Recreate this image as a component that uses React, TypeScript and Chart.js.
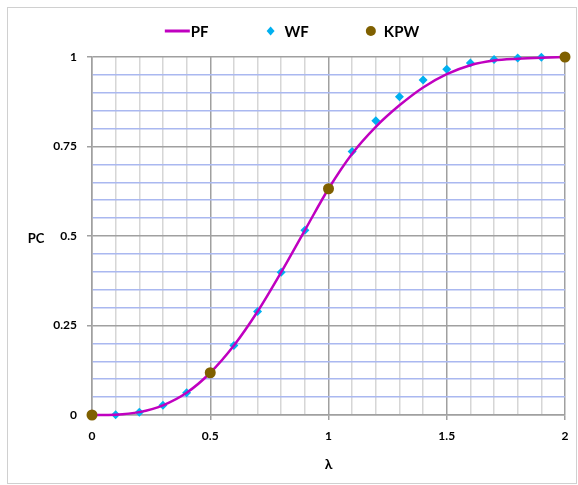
import React, { useEffect, useRef } from "react";
import { Chart, registerables } from "chart.js";

Chart.register(...registerables);

const lambdaValues = [0, 0.1, 0.2, 0.3, 0.4, 0.5, 0.6, 0.7, 0.8, 0.9, 1.0, 1.1, 1.2, 1.3, 1.4, 1.5, 1.6, 1.7, 1.8, 1.9, 2.0];
const pfValues = [0, 0.001, 0.008, 0.027, 0.062, 0.118, 0.194, 0.289, 0.399, 0.516, 0.632, 0.730, 0.805, 0.865, 0.915, 0.952, 0.977, 0.990, 0.995, 0.998, 1.0];
const wfLambda = [0.1, 0.2, 0.3, 0.4, 0.6, 0.7, 0.8, 0.9, 1.1, 1.2, 1.3, 1.4, 1.5, 1.6, 1.7, 1.8, 1.9];
const wfValues = [0.001, 0.008, 0.027, 0.062, 0.194, 0.289, 0.399, 0.516, 0.736, 0.822, 0.889, 0.936, 0.966, 0.983, 0.993, 0.997, 0.999];
const kpwLambda = [0, 0.5, 1.0, 2.0];
const kpwValues = [0, 0.118, 0.632, 1.0];
const seriesNames = ["PF", "WF", "KPW"];
const xTitle = "λ";
const yTitle = "PC";

const PF_COLOR = "#c000c0";
const WF_COLOR = "#00b0f0";
const KPW_COLOR = "#7f6000";
const FONT = "Lato, 'Open Sans', sans-serif";

const isMultiple = (v: number, step: number) => Math.abs(v / step - Math.round(v / step)) < 1e-6;

export default function App() {
  const ref = useRef<HTMLCanvasElement | null>(null);

  useEffect(() => {
    if (!ref.current) return;

    const overlay = {
      id: "overlay",
      afterDraw(chart: any) {
        const { ctx, chartArea } = chart;
        ctx.save();
        // y title horizontal
        ctx.fillStyle = "#000";
        ctx.font = `bold 13px ${FONT}`;
        ctx.textAlign = "center";
        ctx.textBaseline = "middle";
        ctx.fillText(yTitle, 36, (chartArea.top + chartArea.bottom) / 2 + 3);

        // legend
        ctx.font = `bold 15px ${FONT}`;
        ctx.textAlign = "left";
        const ly = 31;
        const symW = [25, 10, 10];
        const gapSym = [1, 9, 8];
        const gapItem = 57;
        const textW = seriesNames.map((n) => ctx.measureText(n).width);
        let total = 0;
        for (let i = 0; i < 3; i++) total += symW[i] + gapSym[i] + textW[i];
        total += gapItem * 2;
        let x = chart.width / 2 - total / 2 + 3;
        for (let i = 0; i < 3; i++) {
          if (i === 0) {
            ctx.strokeStyle = PF_COLOR;
            ctx.lineWidth = 3;
            ctx.beginPath();
            ctx.moveTo(x, ly);
            ctx.lineTo(x + symW[0], ly);
            ctx.stroke();
          } else if (i === 1) {
            const cx = x + 5;
            ctx.fillStyle = WF_COLOR;
            ctx.beginPath();
            ctx.moveTo(cx, ly - 4.5);
            ctx.lineTo(cx + 4, ly);
            ctx.lineTo(cx, ly + 4.5);
            ctx.lineTo(cx - 4, ly);
            ctx.closePath();
            ctx.fill();
          } else {
            ctx.fillStyle = KPW_COLOR;
            ctx.beginPath();
            ctx.arc(x + 5, ly, 5, 0, Math.PI * 2);
            ctx.fill();
          }
          x += symW[i] + gapSym[i];
          ctx.fillStyle = "#000";
          ctx.fillText(seriesNames[i], x, ly + 1);
          x += textW[i] + gapItem;
        }
        ctx.restore();
      },
    };

    const chart = new Chart(ref.current, {
      type: "scatter",
      data: {
        datasets: [
          {
            label: seriesNames[1],
            data: wfLambda.map((x, i) => ({ x, y: wfValues[i] })),
            pointStyle: "rectRot",
            pointRadius: 4.5,
            backgroundColor: WF_COLOR,
            borderColor: WF_COLOR,
            borderWidth: 0,
            showLine: false,
            clip: false,
            order: 2,
          },
          {
            label: seriesNames[0],
            data: lambdaValues.map((x, i) => ({ x, y: pfValues[i] })),
            showLine: true,
            borderColor: PF_COLOR,
            borderWidth: 2.5,
            pointRadius: 0,
            cubicInterpolationMode: "monotone",
            clip: false,
            order: 1,
          },
          {
            label: seriesNames[2],
            data: kpwLambda.map((x, i) => ({ x, y: kpwValues[i] })),
            pointStyle: "circle",
            pointRadius: 5.5,
            backgroundColor: KPW_COLOR,
            borderColor: KPW_COLOR,
            borderWidth: 0,
            showLine: false,
            clip: false,
            order: 0,
          },
        ],
      },
      options: {
        animation: false,
        responsive: false,
        maintainAspectRatio: false,
        layout: { padding: { left: 0, right: 13, top: 57, bottom: 0 } },
        plugins: {
          legend: { display: false },
          tooltip: { enabled: false },
        },
        scales: {
          x: {
            type: "linear",
            min: 0,
            max: 2,
            border: { color: "#a0a0a0", width: 1.5 },
            ticks: {
              stepSize: 0.1,
              autoSkip: false,
              maxRotation: 0,
              padding: 9,
              color: "#000",
              font: { family: FONT, size: 12, weight: "bold" },
              callback: (v: any) => (isMultiple(Number(v), 0.5) ? String(Math.round(Number(v) * 10) / 10) : ""),
            },
            grid: {
              tickLength: 5,
              lineWidth: 1.5,
              color: (c: any) => (isMultiple(c.tick?.value ?? 0, 0.5) ? "#a0a0a0" : "#d6d6d6"),
              tickColor: (c: any) => (isMultiple(c.tick?.value ?? 0, 0.5) ? "#a0a0a0" : "rgba(0,0,0,0)"),
            },
            title: {
              display: true,
              text: xTitle,
              color: "#000",
              font: { family: FONT, size: 14, weight: "bold" },
              padding: { top: 0, bottom: 12 },
            },
            afterFit: (s: any) => {
              s.height = 70;
            },
          },
          y: {
            type: "linear",
            min: 0,
            max: 1,
            border: { color: "#a0a0a0", width: 1.5 },
            ticks: {
              stepSize: 0.05,
              autoSkip: false,
              padding: 10,
              color: "#000",
              font: { family: FONT, size: 12, weight: "bold" },
              callback: (v: any) => (isMultiple(Number(v), 0.25) ? String(Math.round(Number(v) * 100) / 100) : ""),
            },
            grid: {
              tickLength: 5,
              lineWidth: 1.5,
              color: (c: any) => (isMultiple(c.tick?.value ?? 0, 0.25) ? "#a0a0a0" : "#aab8f0"),
              tickColor: (c: any) => (isMultiple(c.tick?.value ?? 0, 0.25) ? "#a0a0a0" : "rgba(0,0,0,0)"),
            },
            afterFit: (s: any) => {
              s.width = 92;
            },
          },
        },
      },
      plugins: [overlay],
    } as any);

    return () => chart.destroy();
  }, []);

  return (
    <div style={{ position: "absolute", left: 0, top: 0, width: 578, height: 485, background: "#fff" }}>
      <div
        style={{
          position: "absolute",
          left: 7,
          top: 7,
          width: 570,
          height: 477,
          border: "1px solid #d0d0d0",
          boxSizing: "border-box",
        }}
      />
      <canvas ref={ref} width={578} height={485} style={{ position: "absolute", left: 0, top: 0 }} />
    </div>
  );
}
